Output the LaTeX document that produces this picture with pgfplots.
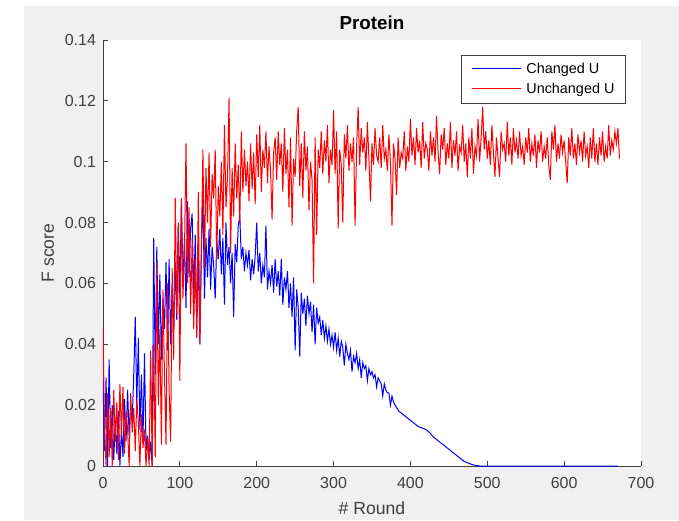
\documentclass[border=0pt]{standalone}
\usepackage{fontspec}
\setmainfont{Liberation Sans}
\usepackage{pgfplots}
\pgfplotsset{compat=1.18}
\definecolor{figbg}{HTML}{F0F0F0}
\definecolor{axgray}{HTML}{404040}

\begin{document}
\begin{tikzpicture}
% screenshot frame: white strip left/top, grey figure background
\path[use as bounding box] (0,0) rectangle (339.5pt,260pt);
\fill[white] (0,0) rectangle (339.5pt,260pt);
\fill[figbg] (12pt,0) rectangle (339.5pt,257pt);
\begin{axis}[
  at={(51.5pt,27pt)}, anchor=south west,
  width=269pt, height=213pt, scale only axis,
  axis background/.style={fill=white},
  xmin=0, xmax=700, ymin=0, ymax=0.14,
  axis x line*=bottom, axis y line*=left,
  x axis line style={-,draw=axgray}, y axis line style={-,draw=axgray},
  tick align=inside, major tick length=2.5pt,
  tick style={axgray, line width=0.4pt},
  xtick={0,100,200,300,400,500,600,700},
  xticklabels={0,100,200,300,400,500,600,700},
  ytick={0,0.02,0.04,0.06,0.08,0.1,0.12,0.14},
  yticklabels={0,0.02,0.04,0.06,0.08,0.1,0.12,0.14},
  ticklabel style={font=\fontsize{8}{9}\selectfont, text=axgray},
  xticklabel style={yshift=-2pt},
  title={\textbf{Protein}},
  every axis title/.style={at={(0.5,1)}, anchor=base, yshift=5pt, font=\fontsize{9.4}{11}\selectfont},
  xlabel={\# Round}, ylabel={F score},
  label style={font=\fontsize{8.8}{10}\selectfont, text=axgray},
  xlabel style={at={(0.5,0)}, anchor=center, yshift=-21pt},
  ylabel style={at={(0,0.5)}, anchor=center, yshift=27.5pt},
]
\addplot[color=blue, line width=0.5pt] coordinates {
(0,.028)(2,.005)(4,.029)(6,0)(8,.035)(10,.006)(12,.020)(14,.002)(16,.015)(18,.004)
(20,.018)(22,0)(24,.012)(26,.003)(28,.022)(30,.008)(32,.025)(34,.010)(36,.020)(38,.015)
(40,.030)(42,.049)(44,.020)(46,.042)(48,.012)(50,.030)(52,.008)(54,.037)(56,.005)(58,.010)
(60,.002)(62,.008)(64,0)
(66,.075)(68,.030)(70,.072)(72,.040)(74,.063)(76,.035)(78,.055)(80,.045)(82,.067)(84,.038)
(86,.068)(88,.040)(90,.060)(92,.045)(94,.067)(96,.048)(98,.080)(100,.055)(102,.088)(104,.060)
(106,.075)(108,.052)(110,.087)(112,.062)(114,.078)(116,.083)(118,.055)(120,.076)(122,.045)(124,.072)
(126,.040)(128,.070)(130,.090)
(132,.055)(134,.075)(136,.062)(138,.078)(140,.058)(142,.072)(144,.066)(146,.055)(148,.074)(150,.068)
(152,.078)(154,.063)(156,.075)(158,.053)(160,.080)(162,.066)(164,.072)(166,.060)(168,.070)(170,.049)
(172,.073)(174,.067)(176,.079)(178,.082)(180,.068)(182,.072)(184,.064)(186,.070)(188,.066)(190,.071)
(192,.061)(194,.068)(196,.063)(198,.069)(200,.080)
(202,.064)(204,.070)(206,.060)(208,.066)(210,.062)(212,.079)(214,.058)(216,.064)(218,.060)(220,.066)
(222,.057)(224,.068)(226,.059)(228,.064)(230,.056)(232,.068)(234,.053)(236,.062)(238,.058)(240,.064)
(242,.052)(244,.060)(246,.049)(248,.062)(250,.038)(252,.058)(254,.052)(256,.036)(258,.057)(260,.050)
(262,.055)(264,.046)(266,.056)(268,.050)(270,.054)(272,.044)(274,.053)(276,.040)(278,.052)(280,.047)
(282,.049)(284,.043)(286,.048)(288,.042)(290,.046)(292,.041)(294,.045)(296,.040)(298,.043)(300,.039)
(302,.044)(304,.038)(306,.042)(308,.036)(310,.041)(312,.039)(314,.033)(316,.040)(318,.037)(320,.035)
(322,.038)(324,.031)(326,.036)(328,.034)(330,.037)(332,.032)(334,.035)(336,.029)(338,.034)(340,.032)
(342,.033)(344,.028)(346,.032)(348,.030)(350,.031)(352,.029)(354,.030)(356,.026)(358,.029)(360,.028)
(362,.027)(364,.023)(366,.027)(368,.025)(370,.024)(372,.024)(374,.020)(376,.023)(378,.021)(380,.020)
(385,.018)(390,.017)(395,.016)(400,.015)(405,.014)(410,.013)(415,.0125)(420,.012)(425,.011)(430,.0095)
(435,.0085)(440,.0075)(445,.0065)(450,.0055)(455,.0045)(460,.0035)(465,.0025)(470,.0015)(475,.001)(480,.0005)
(485,.0002)(490,0)(670,0)
};
\addplot[color=red, line width=0.5pt] coordinates {
(0,.046)(2,.012)(4,0)(6,.024)(8,.003)(10,.019)(12,0)(14,.025)(16,.008)(18,.021)
(20,.002)(22,.027)(24,.010)(26,.026)(28,.004)(30,.018)(32,.012)(34,0)(36,.024)(38,.011)
(40,.019)(42,.005)(44,.022)(46,.014)(48,0)(50,.017)(52,.006)(54,.012)(56,0)(58,.009)
(60,0)(62,.038)(64,0)
(66,.040)(68,.003)(70,.067)(72,.020)(74,.045)(76,.007)(78,.058)(80,.030)(82,.007)(84,.060)
(86,.025)(88,.008)(90,.065)(92,.035)(94,.088)(96,.050)(98,.080)(100,.028)(102,.088)(104,.055)
(106,.070)(108,.106)(110,.060)(112,.085)(114,.050)(116,.075)(118,.045)(120,.068)(122,.042)(124,.090)
(126,.040)(128,.072)(130,.104)
(132,.065)(134,.098)(136,.080)(138,.103)(140,.072)(142,.096)(144,.088)(146,.104)(148,.068)(150,.092)
(152,.082)(154,.100)(156,.076)(158,.112)(160,.085)(162,.095)(164,.121)(166,.070)(168,.098)(170,.082)
(172,.106)(174,.088)(176,.099)(178,.080)(180,.110)(182,.090)(184,.104)(186,.092)(188,.100)(190,.087)
(192,.106)(194,.091)(196,.103)(198,.086)(200,.109)
(202,.095)(204,.112)(206,.090)(208,.104)(210,.098)(212,.110)(214,.093)(216,.105)(218,.097)(220,.081)
(222,.103)(224,.108)(226,.094)(228,.110)(230,.099)(232,.106)(234,.090)(236,.111)(238,.096)(240,.104)
(242,.085)(244,.108)(246,.079)(248,.101)(250,.095)(252,.110)(254,.118)(256,.092)(258,.106)(260,.088)
(262,.110)(264,.097)(266,.105)(268,.084)(270,.100)(272,.094)(274,.060)(276,.108)(278,.076)(280,.104)
(282,.098)(284,.110)(286,.096)(288,.107)(290,.100)(292,.112)(294,.093)(296,.104)(298,.099)(300,.117)
(302,.096)(304,.110)(306,.078)(308,.104)(310,.099)(312,.080)(314,.109)(316,.101)(318,.112)(320,.097)
(322,.106)(324,.100)(326,.108)(328,.079)(330,.105)(332,.118)(334,.099)(336,.111)(338,.103)(340,.108)
(342,.097)(344,.113)(346,.101)(348,.087)(350,.106)(352,.099)(354,.111)(356,.102)(358,.100)(360,.108)
(362,.098)(364,.112)(366,.101)(368,.104)(370,.097)(372,.109)(374,.100)(376,.079)(378,.106)(380,.101)
(382,.089)(384,.108)(386,.098)(388,.103)(390,.101)(392,.110)(394,.097)(396,.105)(398,.100)(400,.114)
(402,.102)(404,.108)(406,.099)(408,.111)(410,.103)(412,.107)(414,.098)(416,.113)(418,.101)(420,.106)
(422,.104)(424,.097)(426,.110)(428,.102)(430,.108)(432,.100)(434,.115)(436,.103)(438,.096)(440,.109)
(442,.104)(444,.111)(446,.099)(448,.106)(450,.101)(452,.113)(454,.098)(456,.107)(458,.102)(460,.110)
(462,.097)(464,.105)(466,.103)(468,.112)(470,.100)(472,.106)(474,.095)(476,.108)(478,.101)(480,.111)
(482,.096)(484,.105)(486,.102)(488,.114)(490,.100)(492,.108)(494,.118)(496,.104)(498,.110)(500,.101)
(502,.107)(504,.099)(506,.112)(508,.103)(510,.095)(512,.108)(514,.101)(516,.095)(518,.110)(520,.104)
(522,.106)(524,.100)(526,.113)(528,.102)(530,.108)(532,.099)(534,.111)(536,.103)(538,.107)(540,.101)
(542,.110)(544,.102)(546,.105)(548,.099)(550,.108)(552,.103)(554,.111)(556,.100)(558,.106)(560,.102)
(562,.109)(564,.098)(566,.107)(568,.103)(570,.110)(572,.100)(574,.105)(576,.101)(578,.108)(580,.099)
(582,.094)(584,.110)(586,.104)(588,.112)(590,.100)(592,.106)(594,.101)(596,.109)(598,.103)(600,.107)
(602,.100)(604,.093)(606,.108)(608,.102)(610,.111)(612,.101)(614,.106)(616,.099)(618,.109)(620,.103)
(622,.107)(624,.100)(626,.110)(628,.102)(630,.105)(632,.098)(634,.108)(636,.101)(638,.111)(640,.100)
(642,.106)(644,.099)(646,.108)(648,.102)(650,.110)(652,.100)(654,.105)(656,.101)(658,.112)(660,.102)
(662,.107)(664,.104)(666,.110)(668,.106)(670,.111)(672,.101)
};
% legend box (MATLAB style)
\node[draw=axgray, line width=0.5pt, fill=white, anchor=north east, inner xsep=5.5pt, inner ysep=2pt,
  font=\fontsize{7.2}{10}\selectfont] at (rel axis cs:0.972,0.965) {%
  \begin{tabular}{@{}l@{\hspace{2.5pt}}l@{}}
  \textcolor{blue}{\rule[2.4pt]{24.5pt}{0.5pt}} & Changed U\\
  \textcolor{red}{\rule[2.4pt]{24.5pt}{0.5pt}} & Unchanged U
  \end{tabular}};
\end{axis}
\end{tikzpicture}
\end{document}
